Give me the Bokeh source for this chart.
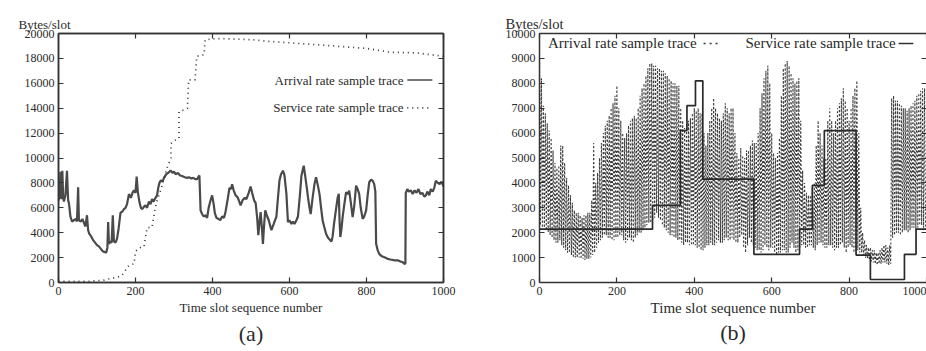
from bokeh.plotting import figure
from bokeh.layouts import row
from bokeh.models import Label, LinearAxis, FixedTicker, Range1d, CustomJSTickFormatter, Title
from bokeh.embed import file_html
from bokeh.resources import INLINE

FONT = "Liberation Serif"
INK = "#2a2a2a"
LINE = "#4a4a4a"

# ---------------- data: panel (a) ----------------
arr_a_x = [0, 3, 5, 8, 10, 12, 14, 18, 22, 25, 27, 31, 35, 40, 45, 48, 51, 53, 58, 62, 66, 70, 74, 77,
           80, 85, 90, 95, 100, 105, 110, 115, 120, 124, 127, 129, 131, 135, 138, 141, 144, 148, 152,
           156, 161, 166, 170, 174, 178, 183, 188, 192, 196, 200, 203, 206, 210, 214, 218, 222, 226,
           230, 235, 239, 243, 247, 252, 256, 259, 262, 266, 270, 274, 280, 285, 291, 296, 300, 304,
           310, 316, 321, 328, 334, 339, 345, 350, 355, 360, 366, 369, 373, 377, 381, 386, 390, 395,
           399, 403, 406, 410, 416, 420, 425, 430, 434, 440, 444, 448, 451, 455, 460, 466, 473, 478,
           484, 488, 494, 499, 503, 508, 512, 516, 519, 522, 525, 528, 531, 534, 537, 541, 546, 553,
           559, 566, 570, 574, 578, 583, 587, 592, 596, 600, 605, 609, 613, 618, 622, 627, 631, 634,
           637, 641, 645, 648, 652, 655, 660, 665, 669, 673, 678, 682, 686, 690, 695, 700, 706, 709,
           712, 716, 721, 725, 728, 730, 732, 735, 738, 742, 747, 751, 755, 759, 764, 768, 773, 777,
           781, 785, 790, 794, 799, 803, 807, 812, 816, 820, 823, 825, 829, 833, 840, 848, 855, 862,
           870, 876, 881, 887, 893, 898, 901, 902, 906, 910, 915, 920, 925, 930, 935, 940, 945, 950,
           954, 958, 963, 967, 972, 976, 980, 985, 990, 995, 1000]
arr_a_y = [6600, 6850, 8900, 6700, 8980, 6900, 6500, 7000, 8980, 6600, 6400, 5300, 4900, 5000, 5100,
           4900, 7650, 5000, 4900, 5100, 4800, 4500, 5400, 4200, 3900, 3700, 3400, 3200, 3000, 2900,
           2700, 2500, 2450, 2400, 2800, 4850, 3100, 3300, 3200, 5400, 3300, 3200, 3500, 4300, 5600,
           5700, 5900, 6000, 6300, 7100, 6800, 7200, 7400, 7200, 8500, 7300, 6500, 6000, 5900, 6100,
           6200, 6000, 6500, 6300, 6700, 6500, 6800, 7000, 7600, 8000, 8200, 8100, 8400, 8700, 8800,
           9000, 8800, 8900, 8700, 8800, 8600, 8550, 8450, 8400, 8450, 8350, 8400, 8300, 8300, 8600,
           5800, 5500, 5300, 5400, 5200, 6000, 6600, 7000, 6300, 5600, 5200, 5100, 5000, 5300, 5200,
           5700, 6800, 7600, 7500, 7900, 7400, 7000, 6800, 6200, 6600, 6800, 6700, 7200, 7700, 7200,
           6600, 6400, 5200, 3800, 4800, 5650, 4500, 3100, 4600, 5800, 5400, 5000, 4200, 4700, 5300,
           6800, 8200, 8700, 8980, 8600, 7100, 4850, 5000, 4700, 4900, 4700, 5000, 5300, 7000, 8580,
           9000, 9380, 8500, 7600, 6850, 6000, 5500, 6800, 7920, 8450, 7900, 7100, 6000, 5000, 4500,
           3920, 3600, 3400, 3300, 3700, 4800, 5920, 6800, 7120, 5000, 3650, 4300, 5250, 6200, 7250,
           7100, 7380, 6500, 5250, 6100, 7780, 7500, 7120, 6000, 5120, 5300, 5780, 7000, 8050, 8250,
           8180, 7900, 7300, 3110, 2600, 2300, 2100, 2000, 1900, 1850, 1800, 1780, 1780, 1700, 1650,
           1520, 1500, 7200, 7500, 7300, 7400, 7100, 7400, 7200, 7500, 7100, 7200, 6900, 6980, 7300,
           7000, 7500, 7300, 7600, 8180, 8000, 7900, 8100, 7700]

svc_a_x = [0, 40, 80, 118, 135, 152, 165, 174, 183, 196, 200, 212, 222, 230, 243, 250, 256, 265,
           274, 282, 292, 292, 303, 313, 313, 325, 335, 338, 355, 359, 378, 381, 411, 506, 541, 602,
           714, 801, 861, 931, 1000]
svc_a_y = [100, 100, 100, 190, 320, 400, 580, 980, 1380, 1500, 2500, 2800, 2850, 4400, 4450, 5780,
           6580, 7380, 8320, 9200, 10000, 11160, 11430, 11560, 13720, 13850, 13990, 16280, 16280,
           18170, 18300, 19500, 19600, 19500, 19380, 19250, 19000, 18800, 18500, 18440, 18170]

# ---------------- data: panel (b) ----------------
# arrival trace: successive peak / trough values, one pair per 5 slots
arr_b_peaks = [
    9000, 8200, 7100, 6800, 6400, 6100, 5800, 5300, 4800, 4600, 4700, 5500, 5500, 4800, 4200, 3900, 3500, 3200, 2900, 2800,
    2800, 2700, 2600, 2700, 2700, 2800, 2800, 3300, 5600, 4000, 4400, 5000, 5600, 6000, 6300, 6500, 6700, 7000, 7200, 7500,
    7900, 7000, 6500, 6000, 5800, 6000, 6300, 6500, 6600, 6700, 6600, 7000, 7500, 7800, 8000, 8300, 8600, 8800, 8800, 8700,
    8700, 8600, 8600, 8500, 8500, 8400, 8300, 8200, 8100, 8000, 8000, 7900, 7900, 7000, 6500, 6200, 6400, 6500, 6600, 6800,
    7000, 6900, 7000, 6800, 6800, 6000, 5500, 6000, 6500, 7000, 7400, 7000, 6800, 6600, 6500, 6800, 7200, 7000, 6800, 7000,
    7000, 6000, 5200, 5000, 5400, 5100, 5000, 5300, 5300, 5500, 5700, 5600, 5600, 6000, 7000, 7600, 8200, 8500, 8700, 8000,
    6000, 5200, 5000, 5200, 5800, 7500, 8600, 8800, 8900, 8700, 8400, 8200, 8000, 8100, 8200, 6500, 4500, 4000, 3600, 3500,
    3500, 3800, 4000, 5500, 6500, 6000, 5500, 5000, 5000, 6500, 7000, 6500, 6000, 6500, 7000, 7200, 7400, 7800, 7300, 7000,
    6500, 7000, 7500, 7800, 8100, 6000, 3000, 2000, 1700, 1500, 1400, 1400, 1300, 1300, 1200, 1200, 1300, 1400, 1500, 1500,
    1400, 1500, 7400, 7500, 7300, 7300, 7200, 7100, 7000, 7000, 6900, 7000, 7100, 7200, 7300, 7500, 7600, 7700, 7800, 7800]
arr_b_troughs = [
    2300, 2200, 2200, 2100, 2000, 1900, 1800, 1700, 1600, 1600, 1700, 1500, 1400, 1300, 1200, 1200, 1100, 1000, 1000, 1000,
    1000, 950, 950, 900, 950, 950, 1000, 1100, 1200, 1400, 1600, 1700, 1800, 1900, 1900, 1800, 1800, 1700, 1700, 1800,
    1800, 1900, 1900, 1700, 1600, 1700, 1800, 1700, 1600, 1800, 1900, 2000, 2000, 2100, 2200, 2300, 2400, 2400, 2500, 2600,
    2800, 2600, 2500, 2300, 2200, 2100, 2000, 1900, 1900, 1800, 1800, 1700, 1700, 1600, 1500, 1600, 1600, 1500, 1500, 1500,
    1500, 1400, 1400, 1300, 1300, 1400, 1500, 1500, 1600, 1500, 1500, 1600, 1700, 1600, 1600, 1700, 1800, 1700, 1700, 1800,
    1700, 1600, 1600, 1800, 1900, 1400, 1200, 1500, 1800, 1600, 1500, 1400, 1300, 1300, 1200, 1300, 1500, 1400, 1300, 1400,
    1400, 1200, 1100, 1200, 1200, 1300, 1300, 1200, 1200, 1400, 1600, 1400, 1200, 1300, 1400, 1500, 1500, 1400, 1400, 1500,
    1500, 1400, 1300, 1500, 1600, 1600, 1500, 1400, 1400, 1500, 1500, 1400, 1300, 1400, 1400, 1500, 1600, 1400, 1200, 1400,
    1500, 1400, 1200, 1300, 1300, 1200, 1200, 1100, 1000, 950, 900, 850, 800, 750, 700, 750, 750, 800, 800, 750,
    700, 750, 1800, 1900, 2000, 2000, 1900, 2000, 2100, 2100, 2000, 2100, 2200, 2200, 2100, 2200, 2300, 2300, 2200, 2200]
arr_b_slots = list(range(0, 1000, 5))

svc_b_x = [0, 292, 364, 381, 403, 422, 554, 672, 705, 736, 818, 855, 943, 973, 1000]
svc_b_y = [2140, 3100, 6100, 7100, 8100, 4150, 1130, 2140, 3900, 6100, 1100, 120, 1130, 2140, 2140]

x_ticks = [0, 200, 400, 600, 800, 1000]
y_ticks_a = list(range(0, 20001, 2000))
y_ticks_b = list(range(0, 10001, 1000))


def style_axis(ax, ticks, labels=True, line=True):
    ax.ticker = FixedTicker(ticks=ticks)
    ax.major_tick_in = 5
    ax.major_tick_out = 0
    ax.minor_tick_line_color = None
    ax.major_tick_line_color = "#333333"
    ax.major_tick_line_width = 1.2
    ax.axis_line_color = "#333333" if line else None
    ax.axis_line_width = 1.5
    ax.major_label_text_font = FONT
    ax.major_label_text_font_size = "12px"
    ax.major_label_text_color = INK
    ax.major_label_standoff = 4
    if not labels:
        ax.formatter = CustomJSTickFormatter(code="return ''")
        ax.major_label_standoff = 0
        ax.major_label_text_font_size = "1px"


def make_title(text, size, align, offset, standoff):
    return Title(text=text, text_font=FONT, text_font_size=size, text_font_style="normal",
                 text_color=INK, align=align, offset=offset, standoff=standoff)


def legend_text(p, x, y, text, size, align="left"):
    p.add_layout(Label(x=x, y=y, text=text, text_font=FONT, text_font_size=size,
                       text_color=INK, text_align=align, text_baseline="middle"))


# ---------------- panel (a) ----------------
pa = figure(width=478, height=351, output_backend="svg", toolbar_location=None, title=None,
            x_range=Range1d(0, 1000), y_range=Range1d(0, 20000),
            min_border_left=58, min_border_right=35, min_border_top=32, min_border_bottom=69)
pa.grid.visible = False
pa.outline_line_color = "#333333"
pa.outline_line_width = 1.5
style_axis(pa.xaxis[0], x_ticks)
style_axis(pa.yaxis[0], y_ticks_a)
ta = LinearAxis(); style_axis(ta, x_ticks, labels=False); pa.add_layout(ta, "above")
ra = LinearAxis(); style_axis(ra, y_ticks_a, labels=False); pa.add_layout(ra, "right")
pa.add_layout(make_title("Bytes/slot", "13px", "left", -40, 4), "above")

pa.add_layout(make_title("Time slot sequence number", "13px", "center", 2, 0), "below")
pa.add_layout(make_title("(a)", "22px", "center", -8, 8), "below")

pa.line(arr_a_x, arr_a_y, line_color=LINE, line_width=2.2)
pa.line(svc_a_x, svc_a_y, line_color="#333333", line_width=1.7, line_dash="1 4")

# legend (text, then key)
legend_text(pa, 896, 16260, "Arrival rate sample trace", "13px", align="right")
legend_text(pa, 896, 14020, "Service rate sample trace", "13px", align="right")
pa.line([906, 971], [16260, 16260], line_color=LINE, line_width=1.6)
pa.line([906, 971], [14020, 14020], line_color="#333333", line_width=1.7, line_dash="1 4")

# ---------------- panel (b) ----------------
pb = figure(width=448, height=351, output_backend="svg", toolbar_location=None, title=None,
            x_range=Range1d(0, 1000), y_range=Range1d(0, 10000),
            min_border_left=61, min_border_right=0, min_border_top=33, min_border_bottom=65)
pb.grid.visible = False
pb.outline_line_color = None
style_axis(pb.xaxis[0], x_ticks)
style_axis(pb.yaxis[0], y_ticks_b)
tb = LinearAxis(); style_axis(tb, x_ticks, labels=False); pb.add_layout(tb, "above")
rb = LinearAxis(); style_axis(rb, y_ticks_b, labels=False, line=False); pb.add_layout(rb, "right")
pb.add_layout(make_title("Bytes/slot", "14.5px", "left", -34, 4), "above")

pb.add_layout(make_title("Time slot sequence number", "15px", "center", 14, 0), "below")
pb.add_layout(make_title("(b)", "22px", "center", 3, 4), "below")

zig_x, zig_y = [], []
for s, hi, lo in zip(arr_b_slots, arr_b_peaks, arr_b_troughs):
    zig_x += [s, s + 2.5]
    zig_y += [hi, lo]
pb.line(zig_x, zig_y, line_color="#3a3a3a", line_width=1.1, line_dash="2 2")
pb.step(svc_b_x, svc_b_y, mode="after", line_color="#2a2a2a", line_width=1.7)

legend_text(pb, 22, 9600, "Arrival rate sample trace", "15px")
pb.line([424, 463], [9600, 9600], line_color="#333333", line_width=1.4, line_dash="2 4")
legend_text(pb, 532, 9600, "Service rate sample trace", "15px")
pb.line([928, 966], [9600, 9600], line_color="#333333", line_width=1.6)

layout = row(pa, pb)
open("out.html", "w").write(file_html(layout, INLINE))
